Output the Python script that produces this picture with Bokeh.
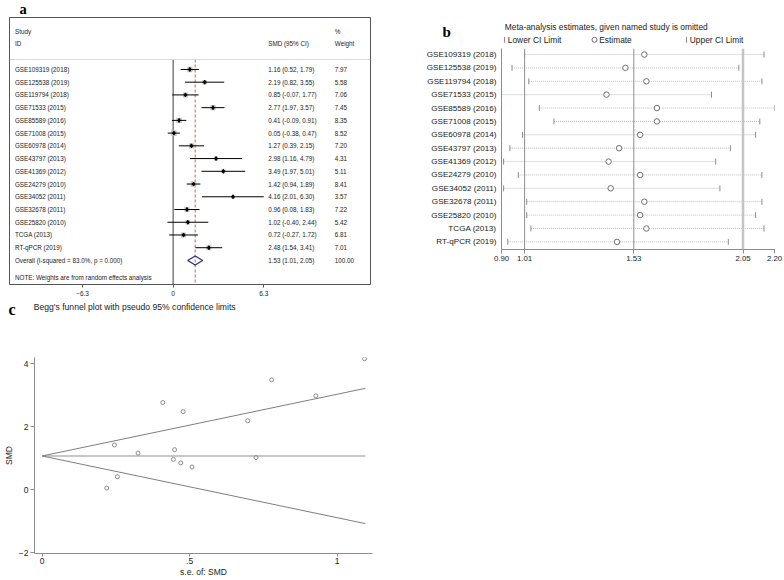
import math
from bokeh.plotting import figure
from bokeh.layouts import column, row
from bokeh.models import Range1d, FixedTicker, Span, NumeralTickFormatter
from bokeh.core.properties import value
from bokeh.embed import file_html
from bokeh.resources import INLINE

# ---------------- data ----------------
studies = ["GSE109319 (2018)", "GSE125538 (2019)", "GSE119794 (2018)", "GSE71533 (2015)",
           "GSE85589 (2016)", "GSE71008 (2015)", "GSE60978 (2014)", "GSE43797 (2013)",
           "GSE41369 (2012)", "GSE24279 (2010)", "GSE34052 (2011)", "GSE32678 (2011)",
           "GSE25820 (2010)", "TCGA (2013)", "RT-qPCR (2019)"]
smd = [1.16, 2.19, 0.85, 2.77, 0.41, 0.05, 1.27, 2.98, 3.49, 1.42, 4.16, 0.96, 1.02, 0.72, 2.48]
smd_low = [0.52, 0.82, -0.07, 1.97, -0.09, -0.38, 0.39, 1.16, 1.97, 0.94, 2.01, 0.08, -0.40, -0.27, 1.54]
smd_high = [1.79, 3.55, 1.77, 3.57, 0.91, 0.47, 2.15, 4.79, 5.01, 1.89, 6.30, 1.83, 2.44, 1.72, 3.41]
weights = [7.97, 5.58, 7.06, 7.45, 8.35, 8.52, 7.20, 4.31, 5.11, 8.41, 3.57, 7.22, 5.42, 6.81, 7.01]
overall_smd = 1.53
overall_low = 1.01
overall_high = 2.05
overall_weight = 100.00
i_squared = 83.0
p_value = 0.000
a_ticks = [-6.3, 0, 6.3]

omit_est = [1.58, 1.49, 1.59, 1.40, 1.64, 1.64, 1.56, 1.46, 1.41, 1.56, 1.42, 1.58, 1.56, 1.59, 1.45]
omit_low = [1.01, 0.95, 1.03, 0.90, 1.08, 1.15, 1.00, 0.94, 0.91, 0.98, 0.91, 1.02, 1.02, 1.04, 0.93]
omit_high = [2.15, 2.03, 2.14, 1.90, 2.20, 2.13, 2.11, 1.99, 1.92, 2.14, 1.94, 2.14, 2.11, 2.15, 1.98]
b_ticks = [0.90, 1.01, 1.53, 2.05, 2.20]

funnel_se = [0.325, 0.697, 0.470, 0.409, 0.255, 0.219, 0.449, 0.928, 0.778, 0.245,
             1.093, 0.445, 0.725, 0.508, 0.478]
funnel_smd = [1.16, 2.19, 0.85, 2.77, 0.41, 0.05, 1.27, 2.98, 3.49, 1.42, 4.16, 0.96, 1.02, 0.72, 2.48]
funnel_line_se = [0.0, 1.096]
funnel_center = [1.07, 1.07]
funnel_upper = [1.07, 3.22]
funnel_lower = [1.07, -1.08]
c_xticks = [0, 0.5, 1]
c_xlabels = {0: "0", 0.5: ".5", 1: "1"}
c_yticks = [-2, 0, 2, 4]

FONT = "Liberation Sans"
SERIF = "Liberation Serif"
GRAY = "#8c8c8c"
TXT = "#222222"


def base_fig(**kw):
    p = figure(output_backend="svg", toolbar_location=None, title_location=None, **kw)
    p.xgrid.visible = False
    p.ygrid.visible = False
    p.outline_line_color = None
    p.border_fill_color = "white"
    return p


def strip(w, h):
    """A text-only strip whose data units are pixels (x right, y down)."""
    return base_fig(width=w, height=h, x_range=Range1d(0, w), y_range=Range1d(h, 0),
                    x_axis_location=None, y_axis_location=None,
                    min_border_left=0, min_border_right=0, min_border_top=0, min_border_bottom=0)


def put(p, x, y, text, size, color=TXT, bold=False, serif=False, align="left", baseline="middle"):
    p.text(x=[x], y=[y], text=[text], text_font=value(SERIF if serif else FONT),
           text_font_size=f"{size}px", text_font_style="bold" if bold else "normal",
           text_color=color, text_align=align, text_baseline=baseline)


# ---------------- panel a : forest plot ----------------
n = len(studies)
rows = list(range(n))
overall_row = n
note_row = n + 1.35
col_study, col_smd, col_w = -11.0, 6.61, 11.24

pa_head = strip(400, 16)
put(pa_head, 19, 8.5, "a", 14.5, color="black", bold=True, serif=True, baseline="alphabetic")

pa = base_fig(frame_width=361, frame_height=267, min_border_left=9, min_border_right=30,
              min_border_top=1, min_border_bottom=16,
              x_range=Range1d(-11.38, 13.72), y_range=Range1d(16.89, -4.08),
              y_axis_location=None)
pa.outline_line_color = "#555555"
pa.outline_line_alpha = 1
pa.outline_line_width = 1
pa.xaxis.ticker = FixedTicker(ticks=a_ticks)
pa.xaxis.axis_line_color = None
pa.xaxis.major_tick_in = 0
pa.xaxis.major_tick_out = 3
pa.xaxis.major_tick_line_color = "#555555"
pa.xaxis.minor_tick_line_color = None
pa.xaxis.major_label_text_font = FONT
pa.xaxis.major_label_text_font_size = "6.5px"
pa.xaxis.major_label_text_color = TXT
pa.xaxis.major_label_standoff = 3

pa.add_layout(Span(location=-0.78, dimension="width", line_color="#d9d9d9", line_width=1))
pa.segment(x0=[0], y0=[-0.78], x1=[0], y1=[16.89], line_color="#7f7f7f", line_width=1.5)
pa.segment(x0=[overall_smd], y0=[-0.78], x1=[overall_smd], y1=[16.89],
           line_color="#c87070", line_width=1.1, line_dash="3 2")

pa.scatter(x=smd, y=rows, marker="square", size=[1.9 * math.sqrt(w) for w in weights],
           fill_color="#c4c4c4", line_color=None)
pa.segment(x0=smd_low, y0=rows, x1=smd_high, y1=rows, line_color="black", line_width=1)
pa.scatter(x=smd, y=rows, marker="diamond", size=4, fill_color="black", line_color="black")
pa.patch(x=[overall_low, overall_smd, overall_high, overall_smd],
         y=[overall_row, overall_row - 0.35, overall_row, overall_row + 0.35],
         fill_color=None, line_color="#2a2a80", line_width=1.2)

txt_kw = dict(text_font=value(FONT), text_font_size="6.3px", text_baseline="middle",
              text_align="left", text_color=TXT)
pa.text(x=[col_study] * 2, y=[-3, -2], text=["Study", "ID"], **txt_kw)
pa.text(x=[col_smd], y=[-2], text=["SMD (95% CI)"], **txt_kw)
pa.text(x=[col_w] * 2, y=[-3, -2], text=["%", "Weight"], **txt_kw)
pa.text(x=[col_study] * n, y=rows, text=studies, **txt_kw)
pa.text(x=[col_smd] * n, y=rows,
        text=[f"{s:.2f} ({l:.2f}, {h:.2f})" for s, l, h in zip(smd, smd_low, smd_high)], **txt_kw)
pa.text(x=[col_w] * n, y=rows, text=[f"{w:.2f}" for w in weights], **txt_kw)
pa.text(x=[col_study], y=[overall_row],
        text=[f"Overall  (I-squared = {i_squared:.1f}%, p = {p_value:.3f})"], **txt_kw)
pa.text(x=[col_smd], y=[overall_row],
        text=[f"{overall_smd:.2f} ({overall_low:.2f}, {overall_high:.2f})"], **txt_kw)
pa.text(x=[col_w], y=[overall_row], text=[f"{overall_weight:.2f}"], **txt_kw)
pa.text(x=[col_study], y=[note_row], text=["NOTE: Weights are from random effects analysis"], **txt_kw)

# ---------------- panel b : influence analysis ----------------
pb_head = strip(383, 48)
put(pb_head, 42, 31.5, "b", 15, color="black", bold=True, serif=True, baseline="alphabetic")
put(pb_head, 104.3, 26.5, "Meta-analysis estimates, given named study is omitted", 8.4)
pb_head.scatter(x=[104, 286], y=[39.3, 39.3], marker="dash", angle=math.pi / 2, size=6,
                line_color=GRAY, line_width=1)
pb_head.scatter(x=[194], y=[39.3], marker="circle", size=5, fill_color="white",
                line_color="#707070", line_width=1)
put(pb_head, 107.3, 39.3, "Lower CI Limit", 8.4)
put(pb_head, 198.7, 39.3, "Estimate", 8.4)
put(pb_head, 289.3, 39.3, "Upper CI Limit", 8.4)

pb = base_fig(frame_width=273, frame_height=201, min_border_left=101, min_border_right=9,
              min_border_top=0, min_border_bottom=16,
              x_range=Range1d(b_ticks[0], b_ticks[-1]), y_range=Range1d(14.57, -0.45))
pb.yaxis.ticker = FixedTicker(ticks=rows)
pb.yaxis.major_label_overrides = {i: s for i, s in zip(rows, studies)}
pb.yaxis.major_tick_in = 0
pb.yaxis.major_tick_out = 0
pb.yaxis.minor_tick_line_color = None
pb.yaxis.axis_line_color = GRAY
pb.yaxis.major_label_standoff = 5
pb.yaxis.major_label_text_font = FONT
pb.yaxis.major_label_text_font_size = "8.1px"
pb.yaxis.major_label_text_color = TXT
pb.xaxis.ticker = FixedTicker(ticks=b_ticks)
pb.xaxis.formatter = NumeralTickFormatter(format="0.00")
pb.xaxis.axis_line_color = GRAY
pb.xaxis.major_tick_line_color = GRAY
pb.xaxis.major_tick_in = 0
pb.xaxis.major_tick_out = 4
pb.xaxis.minor_tick_line_color = None
pb.xaxis.major_label_standoff = 2
pb.xaxis.major_label_text_font = FONT
pb.xaxis.major_label_text_font_size = "7.8px"
pb.xaxis.major_label_text_color = TXT

pb.add_layout(Span(location=overall_low, dimension="height", line_color="#8f8f8f", line_width=1))
pb.add_layout(Span(location=overall_smd, dimension="height", line_color="#8f8f8f", line_width=1))
pb.add_layout(Span(location=overall_high, dimension="height", line_color="#c4c4c4", line_width=2.5))
pb.segment(x0=omit_low, y0=rows, x1=omit_high, y1=rows, line_color="#bdbdbd",
           line_width=1, line_dash="1 1")
pb.scatter(x=omit_low, y=rows, marker="dash", angle=math.pi / 2, size=6,
           line_color=GRAY, line_width=1)
pb.scatter(x=omit_high, y=rows, marker="dash", angle=math.pi / 2, size=6,
           line_color=GRAY, line_width=1)
pb.scatter(x=omit_est, y=rows, marker="circle", size=5.5, fill_color="white",
           line_color="#707070", line_width=1)

# ---------------- panel c : Begg's funnel plot ----------------
pc_head = strip(400, 19)
put(pc_head, 8, 9, "c", 16, color="black", bold=True, serif=True, baseline="alphabetic")
put(pc_head, 33.3, 6.7, "Begg's funnel plot with pseudo 95% confidence limits", 8.6)

pc = base_fig(frame_width=338, frame_height=196, min_border_left=34, min_border_right=410,
              min_border_top=38, min_border_bottom=25,
              x_range=Range1d(-0.026, 1.12), y_range=Range1d(-2.03, 4.2))
for ax in (pc.xaxis, pc.yaxis):
    ax.axis_line_color = GRAY
    ax.major_tick_line_color = GRAY
    ax.major_tick_in = 0
    ax.major_tick_out = 4
    ax.minor_tick_line_color = None
    ax.major_label_text_font = FONT
    ax.major_label_text_font_size = "8.5px"
    ax.major_label_text_color = TXT
    ax.axis_label_text_font = FONT
    ax.axis_label_text_font_size = "8.5px"
    ax.axis_label_text_font_style = "normal"
    ax.axis_label_text_color = TXT
pc.xaxis.ticker = FixedTicker(ticks=c_xticks)
pc.xaxis.major_label_overrides = c_xlabels
pc.xaxis.major_tick_out = 3
pc.xaxis.major_label_standoff = 1
pc.xaxis.axis_label = "s.e. of: SMD"
pc.xaxis.axis_label_standoff = 0
pc.yaxis.ticker = FixedTicker(ticks=c_yticks)
pc.yaxis.major_label_standoff = 2
pc.yaxis.axis_label = "SMD"
pc.yaxis.axis_label_standoff = 2

pc.line(x=funnel_line_se, y=funnel_center, line_color="#b5b5b5", line_width=1.6)
pc.line(x=funnel_line_se, y=funnel_upper, line_color="#7f7f7f", line_width=1)
pc.line(x=funnel_line_se, y=funnel_lower, line_color="#7f7f7f", line_width=1)
pc.scatter(x=funnel_se, y=funnel_smd, marker="circle", size=4, fill_color=None,
           line_color="#8c8c8c", line_width=1)

# strips are wrapped in their own rows so their frames are not aligned with the plots
layout = column(row(column(row(pa_head), pa), column(row(pb_head), pb)), row(pc_head), pc)
open("out.html", "w").write(file_html(layout, INLINE))
